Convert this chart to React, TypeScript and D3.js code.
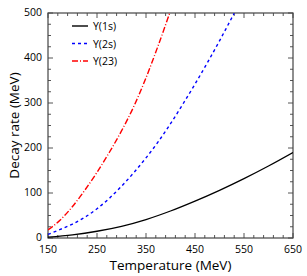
import { useEffect, useRef } from 'react'
import * as d3 from 'd3'

const tempsY1s = [150, 200, 250, 300, 350, 400, 450, 500, 550, 600, 650]
const rateY1s = [2, 7, 15, 26, 41, 60, 82, 106, 132, 160, 190]

const tempsY2s = [150, 175, 200, 225, 250, 275, 300, 325, 350, 375, 400, 425, 450, 475, 500, 525, 530]
const rateY2s = [8, 19, 31, 46, 65, 88, 115, 145, 178, 214, 254, 297, 342, 389, 438, 489, 499]

const tempsY23 = [150, 175, 200, 225, 250, 275, 300, 325, 350, 375, 400]
const rateY23 = [18, 40, 70, 106, 146, 190, 238, 292, 356, 428, 505]

const xTicks = [150, 250, 350, 450, 550, 650]
const yTicks = [0, 100, 200, 300, 400, 500]

const seriesNames = ['Y(1s)', 'Y(2s)', 'Y(23)']
const seriesColors = ['#000000', '#0000ff', '#ff0000']
const seriesDash = [null, '3,3', '6,2,1,2']

const FONT = '"Open Sans", "DejaVu Sans", sans-serif'

export default function App() {
  const ref = useRef<SVGSVGElement>(null)

  useEffect(() => {
    const W = 307, H = 276
    const M = { top: 13, right: 14, bottom: 38, left: 48 }
    const iw = W - M.left - M.right
    const ih = H - M.top - M.bottom

    const svg = d3.select(ref.current)
    svg.selectAll('*').remove()
    svg.attr('width', W).attr('height', H)

    const x = d3.scaleLinear().domain([150, 650]).range([0, iw])
    const y = d3.scaleLinear().domain([0, 500]).range([ih, 0])

    const g = svg.append('g').attr('transform', `translate(${M.left},${M.top})`)

    const clipId = 'plot-clip'
    svg.append('clipPath').attr('id', clipId)
      .append('rect').attr('x', 0).attr('y', 0).attr('width', iw).attr('height', ih)

    // inward ticks on all four sides
    const minorX = d3.range(150, 651, 20)
    const minorY = d3.range(0, 501, 25)
    const tickG = g.append('g').attr('stroke', '#555').attr('stroke-width', 1)
    minorX.forEach(v => {
      const len = xTicks.includes(v) ? 5 : 3
      tickG.append('line').attr('x1', x(v)).attr('x2', x(v)).attr('y1', ih).attr('y2', ih - len)
      tickG.append('line').attr('x1', x(v)).attr('x2', x(v)).attr('y1', 0).attr('y2', len)
    })
    minorY.forEach(v => {
      const len = yTicks.includes(v) ? 5 : 3
      tickG.append('line').attr('x1', 0).attr('x2', len).attr('y1', y(v)).attr('y2', y(v))
      tickG.append('line').attr('x1', iw).attr('x2', iw - len).attr('y1', y(v)).attr('y2', y(v))
    })

    g.append('rect').attr('width', iw).attr('height', ih)
      .attr('fill', 'none').attr('stroke', '#444').attr('stroke-width', 1.2)

    g.append('g').selectAll('text').data(xTicks).join('text')
      .attr('x', d => x(d)).attr('y', ih + 15)
      .attr('text-anchor', 'middle').attr('font-size', 10.5).attr('font-family', FONT)
      .text(d => d)
    g.append('g').selectAll('text').data(yTicks).join('text')
      .attr('x', -6).attr('y', d => y(d) + 3)
      .attr('text-anchor', 'end').attr('font-size', 10.5).attr('font-family', FONT)
      .text(d => d)

    g.append('text').attr('x', iw / 2).attr('y', ih + 32)
      .attr('text-anchor', 'middle').attr('font-size', 13.5).attr('font-family', FONT)
      .text('Temperature (MeV)')
    g.append('text').attr('transform', `translate(${-M.left + 19},${ih / 2}) rotate(-90)`)
      .attr('text-anchor', 'middle').attr('font-size', 13.5).attr('font-family', FONT)
      .text('Decay rate (MeV)')

    const line = d3.line<[number, number]>()
      .x(d => x(d[0])).y(d => y(d[1]))
      .curve(d3.curveMonotoneX)

    const all = [
      d3.zip(tempsY1s, rateY1s),
      d3.zip(tempsY2s, rateY2s),
      d3.zip(tempsY23, rateY23),
    ] as [number, number][][]

    const plot = g.append('g').attr('clip-path', `url(#${clipId})`)
    all.forEach((pts, i) => {
      plot.append('path').datum(pts)
        .attr('fill', 'none').attr('stroke', seriesColors[i])
        .attr('stroke-width', i === 0 ? 1.3 : 1.4)
        .attr('stroke-dasharray', seriesDash[i])
        .attr('d', line)
    })

    // legend
    const leg = g.append('g').attr('transform', 'translate(24,13)')
    seriesNames.forEach((name, i) => {
      const row = leg.append('g').attr('transform', `translate(0,${i * 17.5})`)
      row.append('line').attr('x1', 0).attr('x2', 16).attr('y1', 0).attr('y2', 0)
        .attr('stroke', seriesColors[i]).attr('stroke-width', 1.4)
        .attr('stroke-dasharray', seriesDash[i])
      row.append('text').attr('x', 21).attr('y', 4)
        .attr('font-size', 10.5).attr('font-family', FONT)
        .text(name)
    })
  }, [])

  return <svg ref={ref} style={{ display: 'block', position: 'absolute', left: 0, top: 0 }} />
}
